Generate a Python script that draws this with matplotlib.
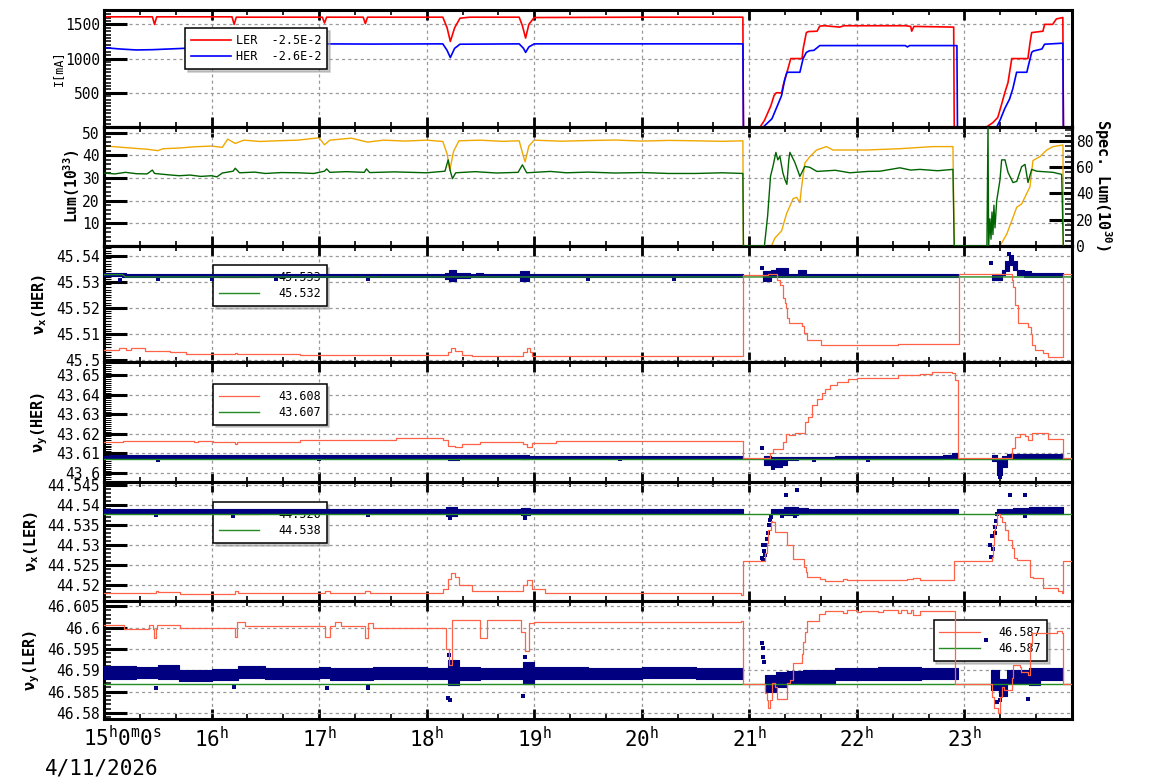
import numpy as np
import matplotlib
matplotlib.use('Agg')
import matplotlib.pyplot as plt
from matplotlib.ticker import MultipleLocator, FixedLocator, FuncFormatter

plt.rcParams['font.family'] = ['DejaVu Sans Mono']
plt.rcParams['mathtext.fontset'] = 'custom'
plt.rcParams['mathtext.rm'] = 'DejaVu Sans Mono'
plt.rcParams['mathtext.it'] = 'DejaVu Sans Mono'
plt.rcParams['mathtext.bf'] = 'DejaVu Sans Mono:bold'

# ---------------- data (time in hours, 4/11/2026) ----------------
# beam currents [mA]
ler_cur = [(15.00, 1610), (15.45, 1610), (15.47, 1500), (15.49, 1610), (16.19, 1610), (16.21, 1500), (16.23, 1605),
           (17.03, 1605), (17.05, 1520), (17.07, 1605), (17.41, 1605), (17.43, 1510), (17.45, 1605), (18.15, 1605),
           (18.19, 1450), (18.22, 1250), (18.26, 1450), (18.31, 1590), (18.40, 1605), (18.86, 1605), (18.89, 1480),
           (18.92, 1300), (18.95, 1500), (19.00, 1600), (20.00, 1605), (20.94, 1605), (20.945, 0), (21.10, 0),
           (21.14, 95), (21.175, 220), (21.20, 310), (21.23, 460), (21.25, 500), (21.30, 500), (21.315, 610),
           (21.35, 800), (21.385, 1000), (21.49, 1000), (21.50, 1140), (21.53, 1380), (21.55, 1395), (21.63, 1400),
           (21.655, 1475), (21.70, 1480), (21.84, 1460), (21.88, 1480), (22.45, 1480), (22.50, 1470), (22.51, 1400),
           (22.53, 1470), (22.90, 1460), (22.905, 0), (23.205, 0), (23.265, 65), (23.31, 140), (23.345, 330),
           (23.375, 500), (23.405, 650), (23.44, 1000), (23.59, 1000), (23.61, 1235), (23.625, 1380), (23.73, 1400),
           (23.745, 1500), (23.82, 1500), (23.855, 1580), (23.915, 1600), (23.92, 0)]
her_cur = [(15.00, 1160), (15.15, 1140), (15.30, 1126), (15.45, 1130), (15.60, 1140), (15.75, 1150), (15.90, 1175),
           (16.05, 1195), (16.19, 1205), (16.22, 1150), (16.25, 1205), (16.40, 1215), (17.00, 1215), (17.50, 1212),
           (18.15, 1215), (18.19, 1120), (18.22, 1015), (18.26, 1150), (18.31, 1210), (18.86, 1215), (18.90, 1150),
           (18.92, 1090), (18.95, 1170), (19.00, 1215), (20.94, 1215), (20.945, 0), (21.13, 0), (21.16, 45),
           (21.21, 120), (21.25, 270), (21.30, 460), (21.33, 700), (21.35, 800), (21.47, 800), (21.50, 1000),
           (21.53, 1090), (21.56, 1115), (21.60, 1120), (21.655, 1190), (22.45, 1190), (22.47, 1170), (22.49, 1190),
           (22.93, 1190), (22.935, 0), (23.30, 0), (23.33, 95), (23.375, 270), (23.42, 410), (23.45, 560),
           (23.485, 800), (23.58, 800), (23.595, 900), (23.625, 1090), (23.64, 1110), (23.72, 1140), (23.745, 1210),
           (23.915, 1225), (23.92, 0)]
cur_labels = ['LER  -2.5E-2', 'HER  -2.6E-2']

# luminosity [1e33] (left) and specific luminosity [1e30] (right)
lum = [(15.00, 32.2), (15.10, 31.8), (15.20, 32.5), (15.30, 31.9), (15.40, 31.8), (15.45, 33.5), (15.47, 32.0),
       (15.60, 31.4), (15.70, 31.0), (15.80, 31.3), (15.90, 30.7), (16.00, 31.0), (16.05, 30.5), (16.10, 32.2),
       (16.20, 33.0), (16.22, 34.3), (16.26, 32.3), (16.40, 32.6), (16.50, 32.0), (16.65, 32.4), (16.80, 32.3),
       (16.95, 32.0), (17.05, 33.0), (17.07, 34.0), (17.10, 32.5), (17.25, 32.8), (17.42, 32.5), (17.44, 34.0),
       (17.47, 32.4), (17.70, 32.7), (18.00, 32.3), (18.17, 33.0), (18.20, 38.0), (18.22, 33.0), (18.24, 29.7),
       (18.27, 32.3), (18.45, 32.8), (18.65, 32.2), (18.85, 32.5), (18.89, 35.8), (18.93, 32.3), (19.15, 32.9),
       (19.30, 32.3), (19.50, 32.6), (19.75, 32.2), (20.00, 32.4), (20.25, 32.0), (20.50, 32.0), (20.75, 32.3),
       (20.94, 32.0), (20.945, 0), (21.14, 0), (21.17, 13.2), (21.197, 30.8), (21.22, 35.2), (21.247, 41.3),
       (21.265, 38.0), (21.284, 39.6), (21.312, 32.3), (21.33, 29.4), (21.349, 27.2), (21.367, 38.0),
       (21.377, 41.3), (21.423, 36.9), (21.47, 30.7), (21.516, 35.1), (21.563, 34.7), (21.628, 32.9),
       (21.80, 33.4), (21.935, 32.3), (22.10, 32.9), (22.214, 33.0), (22.40, 34.5), (22.50, 33.5), (22.586, 33.8),
       (22.75, 33.2), (22.893, 33.8), (22.905, 0), (23.209, 0), (23.219, 52.5), (23.225, 0), (23.237, 12),
       (23.247, 3), (23.256, 15), (23.265, 5), (23.274, 18), (23.284, 8), (23.30, 20), (23.33, 29), (23.346, 38),
       (23.377, 38), (23.405, 32.5), (23.451, 28), (23.486, 28.5), (23.532, 35), (23.563, 36), (23.591, 28),
       (23.625, 33.8), (23.672, 33), (23.823, 32.5), (23.904, 31.6), (23.919, 0)]
spec_lum = [(15.00, 76.1), (15.10, 75.5), (15.25, 74.5), (15.40, 73.6), (15.50, 72.5), (15.55, 74.0), (15.70, 74.5),
            (15.85, 75.5), (16.00, 76.0), (16.05, 75.5), (16.10, 75.0), (16.15, 81.3), (16.22, 78.0), (16.30, 80.5),
            (16.45, 79.5), (16.60, 80.0), (16.80, 80.5), (17.00, 82.3), (17.05, 77.0), (17.10, 80.5), (17.30, 82.0),
            (17.45, 79.0), (17.60, 80.5), (17.80, 79.8), (18.00, 80.5), (18.15, 79.5), (18.19, 70.0), (18.215, 57.5),
            (18.25, 72.0), (18.30, 80.0), (18.50, 80.5), (18.70, 79.6), (18.86, 80.0), (18.90, 68.0), (18.915, 64.0),
            (18.95, 76.0), (19.00, 80.5), (19.25, 79.7), (19.50, 80.2), (19.75, 80.6), (20.00, 79.8), (20.25, 80.3),
            (20.50, 80.0), (20.75, 79.6), (20.94, 80.0), (20.945, 0), (21.206, 0), (21.237, 6), (21.30, 11.5),
            (21.346, 24.5), (21.407, 36), (21.439, 37), (21.47, 33), (21.486, 45), (21.516, 63), (21.563, 68),
            (21.625, 73), (21.718, 75.6), (21.777, 73), (22.09, 73), (22.40, 74), (22.707, 75.6), (22.893, 75.6),
            (22.905, 0), (23.33, 0), (23.393, 9), (23.439, 19), (23.486, 29.5), (23.532, 32), (23.609, 45),
            (23.637, 65), (23.702, 68), (23.765, 73), (23.823, 75.6), (23.916, 76.8), (23.919, 0)]

# tunes: red = set value (step), green = reference, navy band = measured (t, lo, hi), navy dots = outliers
nx_her_set = [(15.0, 45.5038), (15.079, 45.5040), (15.144, 45.5045), (15.207, 45.5040), (15.253, 45.5045),
              (15.377, 45.5035), (15.609, 45.5030), (15.765, 45.5023), (16.214, 45.5025), (16.233, 45.5021),
              (16.819, 45.5017), (18.195, 45.5030), (18.23, 45.5047), (18.26, 45.5035), (18.326, 45.5019),
              (18.419, 45.5015), (18.893, 45.5030), (18.93, 45.5045), (18.96, 45.5030), (18.977, 45.5015),
              (20.942, 45.5327), (21.175, 45.5330), (21.253, 45.5308), (21.284, 45.5288), (21.314, 45.5237),
              (21.33, 45.5220), (21.34, 45.5200), (21.352, 45.5162), (21.37, 45.5142), (21.486, 45.5130),
              (21.507, 45.5103), (21.538, 45.5077), (21.662, 45.5058), (22.384, 45.5062), (22.952, 45.5330),
              (23.439, 45.5308), (23.454, 45.5280), (23.47, 45.5212), (23.502, 45.5142), (23.594, 45.5128),
              (23.615, 45.5100), (23.628, 45.5058), (23.656, 45.5038), (23.733, 45.5026), (23.78, 45.5013),
              (23.919, 45.5330), (24.0, 45.5330)]
nx_her_ref = [(15.0, 45.5328), (15.17, 45.5328), (15.2, 45.5319), (24.0, 45.5319)]
nx_her_band = [[(15.0, 45.5322, 45.5334), (15.17, 45.5320, 45.5333), (15.2, 45.5319, 45.5330), (18.17, 45.5312, 45.5336),
                (18.21, 45.5303, 45.5345), (18.27, 45.5316, 45.5333), (18.4, 45.5319, 45.5330), (18.46, 45.5318, 45.5335),
                (18.52, 45.5319, 45.5330), (18.87, 45.5303, 45.5341), (18.95, 45.5319, 45.5330), (20.94, 45.5319, 45.5330)],
               [(21.13, 45.5305, 45.5340), (21.2, 45.5318, 45.5345), (21.25, 45.5320, 45.5355), (21.36, 45.5318, 45.5332),
                (21.45, 45.5318, 45.5345), (21.53, 45.5318, 45.5331), (22.94, 45.5318, 45.5331)],
               [(23.26, 45.5308, 45.5330), (23.35, 45.5325, 45.5345), (23.38, 45.5340, 45.5380), (23.41, 45.5365, 45.5405),
                (23.45, 45.5345, 45.5380), (23.49, 45.5325, 45.5345), (23.55, 45.5320, 45.5340), (23.62, 45.5318, 45.5334),
                (23.92, 45.5318, 45.5334)]]
nx_her_out = [(15.15, 45.5308), (15.5, 45.5312), (16.0, 45.5312), (16.6, 45.5311), (17.45, 45.5311), (19.5, 45.5312),
              (20.3, 45.5312), (21.12, 45.5355), (23.25, 45.5373), (23.414, 45.5407)]
nx_her_labels = ['45.533', '45.532']

ny_her_set = [(15.0, 43.6160), (15.175, 43.6165), (15.84, 43.6160), (15.87, 43.6165), (16.009, 43.6158),
              (16.214, 43.6150), (16.24, 43.6160), (16.819, 43.6168), (17.718, 43.6177), (18.15, 43.6170),
              (18.195, 43.6140), (18.26, 43.6135), (18.33, 43.6150), (18.5, 43.6160), (18.893, 43.6150),
              (18.93, 43.6135), (18.977, 43.6155), (19.2, 43.6163), (20.942, 43.6075), (21.191, 43.6100),
              (21.219, 43.6122), (21.314, 43.6160), (21.34, 43.6197), (21.37, 43.6195), (21.423, 43.6202),
              (21.516, 43.6262), (21.547, 43.6287), (21.579, 43.6347), (21.625, 43.6378), (21.672, 43.6407),
              (21.702, 43.6429), (21.749, 43.6450), (21.811, 43.6466), (21.919, 43.6478), (21.997, 43.6486),
              (22.384, 43.6500), (22.586, 43.6505), (22.695, 43.6514), (22.881, 43.6510), (22.912, 43.6474),
              (22.942, 43.6075), (23.439, 43.6126), (23.47, 43.6185), (23.516, 43.6197), (23.563, 43.6190),
              (23.594, 43.6168), (23.625, 43.6202), (23.78, 43.6173), (23.919, 43.6075), (24.0, 43.6075)]
ny_her_ref = [(15.0, 43.6070), (24.0, 43.6070)]
ny_her_band = [[(15.0, 43.6075, 43.6089), (15.05, 43.6074, 43.6091), (15.5, 43.6075, 43.6090), (18.15, 43.6074, 43.6090),
                (18.2, 43.6068, 43.6094), (18.3, 43.6075, 43.6090), (18.88, 43.6070, 43.6094), (18.95, 43.6075, 43.6089),
                (20.94, 43.6075, 43.6089)],
               [(21.14, 43.6040, 43.6085), (21.2, 43.6030, 43.6080), (21.3, 43.6040, 43.6082), (21.35, 43.6065, 43.6082),
                (21.45, 43.6070, 43.6084), (21.8, 43.6072, 43.6088), (22.8, 43.6075, 43.6092), (22.88, 43.6078, 43.6100),
                (22.94, 43.6078, 43.6100)],
               [(23.26, 43.6060, 43.6090), (23.3, 43.5990, 43.6070), (23.35, 43.6030, 43.6085), (23.4, 43.6075, 43.6095),
                (23.92, 43.6075, 43.6095)]]
ny_her_out = [(21.12, 43.6128), (21.22, 43.6024), (23.33, 43.5980), (15.5, 43.6068), (17.0, 43.6069),
              (19.8, 43.6069), (21.6, 43.6065), (22.1, 43.6066)]
ny_her_labels = ['43.608', '43.607']

nx_ler_set = [(15.0, 44.5179), (15.479, 44.5186), (15.5, 44.5182), (15.702, 44.5177), (16.214, 44.5186),
              (16.25, 44.5180), (17.051, 44.5185), (17.098, 44.5180), (17.423, 44.5185), (17.47, 44.5180),
              (18.15, 44.5190), (18.195, 44.5215), (18.23, 44.5230), (18.26, 44.5220), (18.305, 44.5200),
              (18.419, 44.5185), (18.893, 44.5200), (18.93, 44.5213), (18.977, 44.5190), (19.1, 44.5180),
              (20.918, 44.5176), (20.942, 44.5260), (21.144, 44.5279), (21.16, 44.5304), (21.175, 44.5338),
              (21.197, 44.5361), (21.209, 44.5358), (21.237, 44.5332), (21.352, 44.5300), (21.407, 44.5264),
              (21.507, 44.5246), (21.526, 44.5232), (21.538, 44.5219), (21.656, 44.5214), (21.702, 44.5211),
              (21.873, 44.5214), (21.905, 44.5212), (22.462, 44.5215), (22.524, 44.5217), (22.586, 44.5212),
              (22.902, 44.5260), (23.253, 44.5270), (23.262, 44.5300), (23.274, 44.5338), (23.287, 44.5350),
              (23.3, 44.5377), (23.33, 44.5370), (23.346, 44.5358), (23.377, 44.5338), (23.407, 44.5313),
              (23.439, 44.5292), (23.46, 44.5267), (23.486, 44.5262), (23.609, 44.5221), (23.64, 44.5218),
              (23.733, 44.5192), (23.872, 44.5185), (23.904, 44.5181), (23.919, 44.5260), (24.0, 44.5260)]
nx_ler_ref = [(15.0, 44.5377), (24.0, 44.5377)]
nx_ler_band = [[(15.0, 44.5379, 44.5389), (18.18, 44.5372, 44.5395), (18.28, 44.5379, 44.5389), (18.88, 44.5374, 44.5393),
                (18.96, 44.5379, 44.5389), (20.94, 44.5379, 44.5389)],
               [(21.2, 44.5378, 44.5390), (21.32, 44.5376, 44.5395), (21.45, 44.5378, 44.5393), (21.55, 44.5379, 44.5390),
                (22.94, 44.5379, 44.5390)],
               [(23.3, 44.5378, 44.5390), (23.45, 44.5379, 44.5393), (23.6, 44.5377, 44.5394), (23.92, 44.5377, 44.5394)]]
nx_ler_out = [(21.12, 44.5268), (21.125, 44.5300), (21.13, 44.5262), (21.14, 44.5285), (21.15, 44.5276),
              (21.155, 44.5300), (21.16, 44.5315), (21.17, 44.5330), (21.18, 44.5350), (21.19, 44.5362),
              (21.2, 44.5370), (21.34, 44.5425), (21.44, 44.5437), (21.3, 44.5372), (21.42, 44.5372),
              (23.24, 44.5300), (23.25, 44.5270), (23.255, 44.5322), (23.27, 44.5290), (23.28, 44.5330),
              (23.285, 44.5346), (23.29, 44.5360), (23.3, 44.5377), (23.42, 44.5425), (23.56, 44.5425),
              (23.56, 44.5372), (15.48, 44.5375), (16.2, 44.5372), (18.22, 44.5368), (18.91, 44.5368),
              (17.45, 44.5376)]
nx_ler_labels = ['44.526', '44.538']

ny_ler_set = [(15.0, 46.6007), (15.19, 46.5996), (15.423, 46.6007), (15.451, 46.5996), (15.465, 46.5975),
              (15.479, 46.5996), (15.494, 46.6007), (15.702, 46.5998), (16.2, 46.5998), (16.214, 46.5978),
              (16.233, 46.6013), (16.307, 46.6003), (17.051, 46.5978), (17.098, 46.6003), (17.144, 46.6013),
              (17.207, 46.6003), (17.423, 46.5975), (17.451, 46.6010), (17.498, 46.5998), (18.15, 46.5998),
              (18.18, 46.5950), (18.21, 46.5912), (18.24, 46.6017), (18.5, 46.5975), (18.56, 46.6017),
              (18.88, 46.5990), (18.91, 46.5945), (18.95, 46.6010), (19.0, 46.6013), (20.918, 46.6016),
              (20.942, 46.5868), (21.144, 46.5847), (21.16, 46.5830), (21.175, 46.5811), (21.191, 46.5830),
              (21.209, 46.5870), (21.237, 46.5861), (21.258, 46.5832), (21.352, 46.5870), (21.377, 46.5878),
              (21.402, 46.5918), (21.486, 46.5939), (21.5, 46.5965), (21.516, 46.5990), (21.538, 46.6016),
              (21.649, 46.6031), (21.702, 46.6039), (21.873, 46.6033), (21.905, 46.6042), (21.997, 46.6036),
              (22.034, 46.6039), (22.198, 46.6036), (22.245, 46.6042), (22.384, 46.6035), (22.41, 46.6042),
              (22.462, 46.6035), (22.5, 46.6040), (22.524, 46.6030), (22.586, 46.6038), (22.912, 46.5868),
              (23.253, 46.5838), (23.274, 46.5811), (23.314, 46.5799), (23.33, 46.5838), (23.346, 46.5860),
              (23.367, 46.5855), (23.439, 46.5883), (23.454, 46.5912), (23.516, 46.5908), (23.523, 46.5895),
              (23.594, 46.5888), (23.609, 46.5963), (23.625, 46.5986), (23.858, 46.5993), (23.904, 46.5986),
              (23.919, 46.5868), (24.0, 46.5868)]
ny_ler_ref = [(15.0, 46.5868), (24.0, 46.5868)]
ny_ler_band = [[(15.0, 46.5880, 46.5910), (15.3, 46.5882, 46.5908), (15.5, 46.5880, 46.5912), (15.7, 46.5875, 46.5900),
                (16.0, 46.5878, 46.5903), (16.25, 46.5882, 46.5910), (16.5, 46.5880, 46.5906), (17.0, 46.5882, 46.5908),
                (17.1, 46.5878, 46.5905), (17.5, 46.5880, 46.5908), (18.0, 46.5880, 46.5905), (18.2, 46.5865, 46.5925),
                (18.3, 46.5878, 46.5908), (18.5, 46.5880, 46.5906), (18.9, 46.5868, 46.5920), (19.0, 46.5880, 46.5908),
                (19.5, 46.5880, 46.5905), (20.0, 46.5882, 46.5908), (20.5, 46.5880, 46.5905), (20.94, 46.5880, 46.5905)],
               [(21.15, 46.5850, 46.5890), (21.25, 46.5860, 46.5895), (21.35, 46.5870, 46.5898), (21.5, 46.5868, 46.5900),
                (21.8, 46.5878, 46.5905), (22.2, 46.5877, 46.5908), (22.6, 46.5880, 46.5905), (22.94, 46.5880, 46.5905)],
               [(23.25, 46.5855, 46.5900), (23.32, 46.5840, 46.5880), (23.4, 46.5870, 46.5900), (23.6, 46.5865, 46.5905),
                (23.7, 46.5878, 46.5905), (23.92, 46.5878, 46.5905)]]
ny_ler_out = [(15.48, 46.5858), (16.21, 46.5860), (17.07, 46.5859), (17.45, 46.5858), (17.45, 46.5862),
              (18.2, 46.5835), (18.22, 46.5830), (18.21, 46.5936), (18.9, 46.5840), (18.91, 46.5932),
              (21.12, 46.5964), (21.125, 46.5952), (21.13, 46.5930), (21.14, 46.5920), (23.2, 46.5971),
              (23.3, 46.5826), (23.59, 46.5832), (23.33, 46.5830)]
ny_ler_labels = ['46.587', '46.587']

hour_ticks = list(range(15, 25))

# ---------------- figure ----------------
W, H = 1154, 782
fig = plt.figure(figsize=(W / 100, H / 100), dpi=100)
x0, x1 = 104, 1072
edges = [10, 127, 246, 362, 482, 601, 719]
axs = []
for i in range(6):
    top, bot = edges[i], edges[i + 1]
    axs.append(fig.add_axes([x0 / W, 1 - bot / H, (x1 - x0) / W, (bot - top) / H]))

tune_fmt = FuncFormatter(lambda v, p: f'{v:.4f}'.rstrip('0').rstrip('.'))
grid_kw = dict(color='#999999', ls=(0, (2.5, 2.5)), lw=0.9)


def style(ax, ylim, ymaj, ymin, mwidth=1.1):
    ax.set_xlim(15, 24)
    ax.set_ylim(*ylim)
    ax.xaxis.set_major_locator(FixedLocator(hour_ticks))
    ax.xaxis.set_minor_locator(MultipleLocator(1 / 3))
    ax.yaxis.set_major_locator(ymaj)
    ax.yaxis.set_minor_locator(MultipleLocator(ymin))
    ax.tick_params(axis='y', which='major', direction='in', length=16.5, width=2.2, labelsize=10.5, pad=3)
    ax.tick_params(axis='y', which='minor', direction='in', length=5, width=mwidth)
    ax.tick_params(axis='x', which='major', direction='in', length=7, width=2, top=True, labelbottom=False)
    ax.tick_params(axis='x', which='minor', direction='in', length=3.5, width=1.2, top=True)
    ax.grid(True, which='major', **grid_kw)
    for s in ax.spines.values():
        s.set_linewidth(2.2)


def legend(ax, handles, labels, xy, pad=1.6):
    leg = ax.legend(handles, labels, loc='upper left', bbox_to_anchor=xy, borderaxespad=0, fancybox=False,
                    shadow={'ox': 2, 'oy': -2, 'color': '#999999'}, fontsize=8.5, handlelength=3.4,
                    handletextpad=pad, labelspacing=0.25, borderpad=0.5, framealpha=1)
    leg.get_frame().set_edgecolor('black')
    leg.get_frame().set_linewidth(1.1)
    leg.set_zorder(2.5)
    return leg


# panel 1: currents
ax = axs[0]
t, v = np.array(ler_cur).T
h1, = ax.plot(t, v, color='#ff0000', lw=1.2)
t, v = np.array(her_cur).T
h2, = ax.plot(t, v, color='#0000ff', lw=1.2)
style(ax, (0, 1710), FixedLocator([500, 1000, 1500]), 50)
legend(ax, [h1, h2], cur_labels, (0.0837, 0.846), pad=0.4)

# panel 2: luminosity
ax = axs[1]
t, v = np.array(lum).T
ax.plot(t, v, color='#006400', lw=1.0, zorder=3)
style(ax, (0, 52.5), FixedLocator([10, 20, 30, 40, 50]), 2)
axr = ax.twinx()
t, v = np.array(spec_lum).T
axr.plot(t, v, color='#f0a800', lw=1.0, zorder=2)
axr.set_ylim(0, 90.5)
axr.yaxis.set_major_locator(MultipleLocator(20))
axr.yaxis.set_minor_locator(MultipleLocator(4))
axr.tick_params(axis='y', which='major', direction='in', length=16.5, width=2.2, labelsize=10.5, pad=3)
axr.tick_params(axis='y', which='minor', direction='in', length=5, width=1.1)
ax.set_zorder(axr.get_zorder() + 1)
ax.patch.set_visible(False)
for s in axr.spines.values():
    s.set_linewidth(2.2)

# tune panels
tunes = [
    (axs[2], nx_her_set, nx_her_ref, nx_her_band, nx_her_out, nx_her_labels, (45.4992, 45.5438), 0.01, 0.001, (0.1126, 0.836), 0.8),
    (axs[3], ny_her_set, ny_her_ref, ny_her_band, ny_her_out, ny_her_labels, (43.5954, 43.6566), 0.01, 0.001, (0.1126, 0.817), 0.7),
    (axs[4], nx_ler_set, nx_ler_ref, nx_ler_band, nx_ler_out, nx_ler_labels, (44.5160, 44.54575), 0.005, 0.001, (0.1126, 0.832), 1.1),
    (axs[5], ny_ler_set, ny_ler_ref, ny_ler_band, ny_ler_out, ny_ler_labels, (46.5786, 46.6062), 0.005, 0.001, (0.857, 0.839), 1.1),
]
for ax, sset, ref, band, outl, labels, ylim, maj, mnr, anchor, mw in tunes:
    t, v = np.array(sset).T
    hs, = ax.plot(t, v, color='#ff6347', lw=0.9, drawstyle='steps-post', zorder=4)
    t, v = np.array(ref).T
    hr, = ax.plot(t, v, color='#228b22', lw=1.0, zorder=3.5)
    for seg in band:
        tb, lo, hi = np.array(seg).T
        ax.fill_between(tb, lo, hi, step='post', color='#000080', lw=0.8, zorder=3)
    to, vo = np.array(outl).T
    ax.plot(to, vo, 's', color='#000080', ms=2.6, mew=0, zorder=3)
    style(ax, ylim, MultipleLocator(maj), mnr, mw)
    ax.yaxis.set_major_formatter(tune_fmt)
    legend(ax, [hs, hr], labels, anchor)

# bottom time axis
axb = axs[5]
axb.set_xticks(hour_ticks)
axb.set_xticklabels([''] + [r'$\mathregular{%d^{h}}$' % h for h in hour_ticks[1:-1]] + [''])
axb.tick_params(axis='x', which='major', labelbottom=True, labelsize=15, pad=5)
fig.text(83 / W, 1 - 725 / H, r'$\mathregular{15^{h}0^{m}0^{s}}$', fontsize=15, ha='left', va='top')
fig.text(45 / W, 1 - 768 / H, '4/11/2026', fontsize=15, ha='left', va='center')

# axis titles
fig.text(58 / W, 1 - 68 / H, 'I[mA]', rotation=90, ha='center', va='center', fontsize=8.5)
fig.text(72 / W, 1 - 186 / H, r'Lum(10$^{\mathbf{33}}$)', rotation=90, ha='center', va='center', fontsize=10.5,
         fontweight='bold')
fig.text(1103 / W, 1 - 185 / H, r'Spec. Lum(10$^{\mathbf{30}}$)', rotation=270, ha='center', va='center',
         fontsize=11, fontweight='bold')
for (ax_i, txt, xpx) in [(2, r'ν$_\mathbf{x}$(HER)', 40), (3, r'ν$_\mathbf{y}$(HER)', 40),
                         (4, r'ν$_\mathbf{x}$(LER)', 32), (5, r'ν$_\mathbf{y}$(LER)', 32)]:
    yc = (edges[ax_i] + edges[ax_i + 1]) / 2
    fig.text(xpx / W, 1 - yc / H, txt, rotation=90, ha='center', va='center', fontsize=11, fontweight='bold')

fig.savefig('out.png', dpi=100)
